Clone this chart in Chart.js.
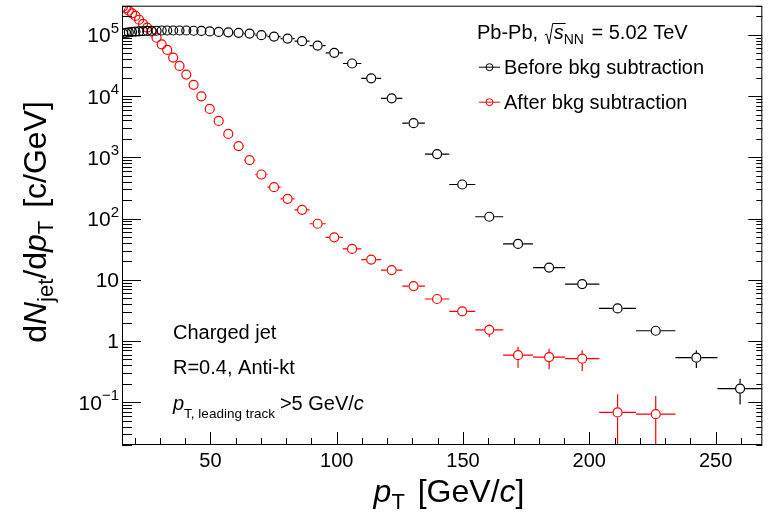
<!DOCTYPE html>
<html><head><meta charset="utf-8">
<script src="https://cdn.jsdelivr.net/npm/chart.js@4"></script>
<style>html,body{margin:0;padding:0;background:#fff;overflow:hidden}canvas{display:block}</style>
</head><body>
<canvas id="c" width="768" height="524"></canvas>
<script>
// ---- data ----
const ptCenters = [15.43,16.53,17.70,18.97,20.32,21.77,23.32,24.98,26.76,28.67,30.71,32.90,35.25,37.76,40.45,43.34,46.43,49.74,53.28,57.08,61.15,65.51,70.18,75.19,80.55,86.29,92.44,99.03,106.09,113.66,121.76,130.44,139.74,149.7,160.4,171.8,184.1,197.2,211.2,226.3,242.4,259.7];
const ptHalfWidths = [0.53,0.57,0.61,0.65,0.70,0.75,0.80,0.86,0.92,0.99,1.06,1.13,1.21,1.30,1.39,1.49,1.60,1.71,1.84,1.97,2.11,2.26,2.42,2.59,2.78,2.97,3.19,3.41,3.66,3.92,4.20,4.49,4.82,5.16,5.53,5.92,6.34,6.80,7.28,7.80,8.35,8.95];
const beforeValues = [1.06e5,1.08e5,1.10e5,1.12e5,1.13e5,1.14e5,1.15e5,1.16e5,1.17e5,1.17e5,1.18e5,1.18e5,1.18e5,1.18e5,1.18e5,1.17e5,1.16e5,1.14e5,1.12e5,1.10e5,1.08e5,1.05e5,9.9e4,9.4e4,8.7e4,7.9e4,6.7e4,5.1e4,3.41e4,1.95e4,9.2e3,3.61e3,1.13e3,360,107,38.5,15.8,8.5,3.41,1.47,0.533,0.167];
const beforeErrors = [300,300,300,300,300,300,300,300,300,300,300,300,300,300,300,300,300,300,300,300,300,300,300,300,300,300,250,220,180,140,95,60,34,10,4,1.5,0.8,0.5,0.25,0.16,0.17,0.075];
const afterValues = [2.90e5,2.71e5,2.48e5,2.25e5,2.04e5,1.77e5,1.51e5,1.32e5,1.13e5,8.98e4,7.01e4,5.68e4,4.27e4,3.11e4,2.25e4,1.53e4,9.93e3,6.17e3,3.94e3,2.41e3,1.53e3,902,524,325,210,139,82.3,49.4,31.9,21.4,14.4,7.9,4.85,3.05,1.52,0.587,0.546,0.514,0.068,0.0638];
const afterErrors = [900,900,900,800,800,700,700,600,600,500,450,400,350,300,250,200,160,120,95,75,60,45,34,20,14,9,6,3.5,2.2,1.5,1.0,0.6,0.4,0.3,0.36,0.22,0.2,0.19,0.067,0.063];
const xMajorTicks = [50,100,150,200,250];
const xMinorTicks = [20,30,40,60,70,80,90,110,120,130,140,160,170,180,190,210,220,230,240,260];
const yTickExponents = [-1,0,1,2,3,4,5];
const seriesNames = ["Before bkg subtraction","After bkg subtraction"];
const seriesColors = ["#000000","#ff0000"];

const FONT = "'Liberation Sans', Arial, Helvetica, sans-serif";
function mk(vals, errs){ return vals.map((v,i)=>({x:ptCenters[i], y:v, xe:ptHalfWidths[i], ye:errs[i]})); }

const R = 4.5; // marker radius
const rootPlugin = {
  id:'rootStyle',
  afterDatasetsDraw(chart){
    const ctx = chart.ctx, a = chart.chartArea;
    const xs = chart.scales.x, ys = chart.scales.y;
    ctx.save();
    ctx.beginPath(); ctx.rect(a.left, a.top, a.right-a.left, a.bottom-a.top); ctx.clip();
    chart.data.datasets.forEach((ds)=>{
      ctx.strokeStyle = ds.borderColor; ctx.lineWidth = 1.2;
      ds.data.forEach(p=>{
        const cx = xs.getPixelForValue(p.x), cy = ys.getPixelForValue(p.y);
        const xl = xs.getPixelForValue(p.x-p.xe), xh = xs.getPixelForValue(p.x+p.xe);
        const r = R+0.5;
        ctx.beginPath();
        if (xl < cx-r){ ctx.moveTo(xl, cy); ctx.lineTo(cx-r, cy); }
        if (xh > cx+r){ ctx.moveTo(cx+r, cy); ctx.lineTo(xh, cy); }
        const yh = ys.getPixelForValue(p.y+p.ye);
        const yl = (p.y-p.ye) > 0 ? ys.getPixelForValue(p.y-p.ye) : a.bottom+5;
        if (yh < cy-r){ ctx.moveTo(cx, cy-r); ctx.lineTo(cx, yh); }
        if (yl > cy+r){ ctx.moveTo(cx, cy+r); ctx.lineTo(cx, yl); }
        ctx.stroke();
      });
    });
    ctx.restore();
  },
  afterDraw(chart){
    const ctx = chart.ctx, a = chart.chartArea;
    const xs = chart.scales.x, ys = chart.scales.y;
    ctx.save();
    ctx.strokeStyle = '#000'; ctx.fillStyle = '#000'; ctx.lineWidth = 1;
    ctx.strokeRect(a.left+0.5, a.top+0.5, a.right-a.left-1, a.bottom-a.top-1);
    ctx.beginPath();
    xMajorTicks.forEach(v=>{ const px=Math.round(xs.getPixelForValue(v))+0.5; ctx.moveTo(px,a.bottom); ctx.lineTo(px,a.bottom-13); });
    xMinorTicks.forEach(v=>{ const px=Math.round(xs.getPixelForValue(v))+0.5; ctx.moveTo(px,a.bottom); ctx.lineTo(px,a.bottom-7); });
    for (let e=-2; e<=5; e++){
      for (let m=1; m<=9; m++){
        const v = m*Math.pow(10,e);
        if (v < ys.min || v > ys.max) continue;
        const py = Math.round(ys.getPixelForValue(v))+0.5;
        const Ll = m===1 ? 19 : 10, Lr = m===1 ? 14 : 6;
        ctx.moveTo(a.left, py); ctx.lineTo(a.left+Ll, py);
        ctx.moveTo(a.right, py); ctx.lineTo(a.right-Lr, py);
      }
    }
    ctx.stroke();
    ctx.font = `20px ${FONT}`; ctx.textAlign='center'; ctx.textBaseline='alphabetic';
    xMajorTicks.forEach(v=>{ ctx.fillText(String(v), xs.getPixelForValue(v), 467); });
    ctx.textAlign='left';
    yTickExponents.forEach(e=>{
      const py = ys.getPixelForValue(Math.pow(10,e));
      const rightEdge = 119;
      if (e===0 || e===1){
        ctx.font = `21px ${FONT}`; ctx.textAlign='right';
        ctx.fillText(e===0?'1':'10', rightEdge, py+7.5);
        ctx.textAlign='left';
      } else {
        const sup = e<0 ? '\u2212'+(-e) : String(e);
        ctx.font = `15px ${FONT}`; const sw = ctx.measureText(sup).width;
        ctx.font = `21px ${FONT}`; const bw = ctx.measureText('10').width;
        const x0 = rightEdge - sw - bw;
        ctx.fillText('10', x0, py+7.5);
        ctx.font = `15px ${FONT}`; ctx.fillText(sup, x0+bw, py-2);
      }
    });
    function rich(parts, x, y, align){
      let w = 0;
      parts.forEach(p=>{ ctx.font = p.f; p.w = ctx.measureText(p.t).width; w += p.w + (p.gap||0); });
      let cx = align==='center' ? x - w/2 : x;
      parts.forEach(p=>{ ctx.font = p.f; ctx.fillText(p.t, cx, y + (p.dy||0)); cx += p.w + (p.gap||0); });
      return w;
    }
    ctx.textAlign='left';
    const T = 32, S = 22;
    rich([
      {t:'p', f:`italic ${T}px ${FONT}`},
      {t:'T', f:`${S}px ${FONT}`, dy:7, gap:4},
      {t:' [GeV/', f:`${T}px ${FONT}`},
      {t:'c', f:`italic ${T}px ${FONT}`},
      {t:']', f:`${T}px ${FONT}`}
    ], 449, 502, 'center');
    ctx.save();
    ctx.translate(46, 222); ctx.rotate(-Math.PI/2);
    rich([
      {t:'d', f:`${T}px ${FONT}`},
      {t:'N', f:`italic ${T}px ${FONT}`},
      {t:'jet', f:`${S}px ${FONT}`, dy:7},
      {t:'/d', f:`${T}px ${FONT}`},
      {t:'p', f:`italic ${T}px ${FONT}`},
      {t:'T', f:`${S}px ${FONT}`, dy:7, gap:4},
      {t:' [c/GeV]', f:`${T}px ${FONT}`}
    ], 0, 0, 'center');
    ctx.restore();
    const F = `20px ${FONT}`;
    let w = rich([{t:'Pb-Pb, ', f:F}], 477, 38.5, 'left');
    const sx = 477 + w + 1;
    ctx.beginPath();
    ctx.moveTo(sx, 35); ctx.lineTo(sx+2, 34); ctx.lineTo(sx+4.5, 44); ctx.lineTo(sx+8, 23.5); ctx.lineTo(sx+21, 23.5);
    ctx.stroke();
    rich([
      {t:'s', f:`italic 20px ${FONT}`},
      {t:'NN', f:`14px ${FONT}`, dy:5, gap:2},
      {t:' = 5.02 TeV', f:F}
    ], sx+9, 38.5, 'left');
    [[66.7,0],[101.7,1]].forEach(([yy,i])=>{
      ctx.strokeStyle = seriesColors[i];
      ctx.beginPath(); ctx.moveTo(479, yy+0.5); ctx.lineTo(500, yy+0.5); ctx.stroke();
      ctx.beginPath(); ctx.arc(489.5, yy+0.5, 3.5, 0, Math.PI*2); ctx.stroke();
      ctx.fillStyle='#000';
      rich([{t:seriesNames[i], f:F}], 504, yy+7, 'left');
    });
    ctx.fillStyle='#000';
    rich([{t:'Charged jet', f:F}], 173, 339, 'left');
    rich([{t:'R=0.4, Anti-kt', f:F}], 173, 374, 'left');
    rich([
      {t:'p', f:`italic 20px ${FONT}`},
      {t:'T, leading track', f:`13.5px ${FONT}`, dy:8, gap:5},
      {t:'>5 GeV/', f:F},
      {t:'c', f:`italic 20px ${FONT}`}
    ], 173, 410, 'left');
    ctx.restore();
  }
};

new Chart(document.getElementById('c'), {
  type:'scatter',
  data:{ datasets:[
    {label:seriesNames[0], data:mk(beforeValues, beforeErrors), borderColor:seriesColors[0], backgroundColor:'rgba(0,0,0,0)', pointRadius:R, pointHoverRadius:R, borderWidth:1.2, pointBorderWidth:1.2, showLine:false},
    {label:seriesNames[1], data:mk(afterValues, afterErrors), borderColor:seriesColors[1], backgroundColor:'rgba(0,0,0,0)', pointRadius:R, pointHoverRadius:R, borderWidth:1.2, pointBorderWidth:1.2, showLine:false}
  ]},
  options:{
    responsive:false, animation:false, devicePixelRatio:1,
    layout:{padding:{left:122, top:4, right:1, bottom:79}},
    plugins:{legend:{display:false}, tooltip:{enabled:false}},
    scales:{
      x:{type:'linear', min:15, max:268.5, display:false},
      y:{type:'logarithmic', min:0.02, max:3e5, display:false}
    },
    events:[]
  },
  plugins:[rootPlugin]
});
</script>
</body></html>
